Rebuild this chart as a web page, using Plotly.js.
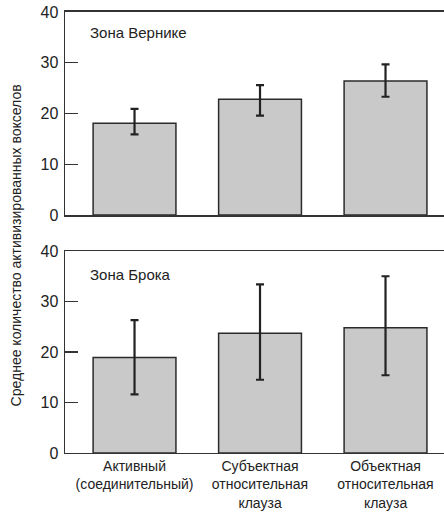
<!DOCTYPE html>
<html>
<head>
<meta charset="utf-8">
<script src="https://cdn.plot.ly/plotly-3.0.1.min.js"></script>
<style>html,body{margin:0;padding:0;background:#fff;}#chart{width:444px;height:515px;}</style>
</head>
<body>
<div id="chart"></div>
<script>
const categories = ["Активный<br>(соединительный)", "Субъектная<br>относительная<br>клауза", "Объектная<br>относительная<br>клауза"];
const wernickeValues = [18.1, 22.8, 26.4];
const wernickePlus = [2.8, 2.8, 3.3];
const wernickeMinus = [2.2, 3.2, 3.1];
const brocaValues = [18.9, 23.7, 24.8];
const brocaPlus = [7.4, 9.7, 10.2];
const brocaMinus = [7.3, 9.2, 9.4];
const panelTitles = ["Зона Вернике", "Зона Брока"];
const yTitle = "Среднее количество активизированных вокселов";
const yTicks = [0, 10, 20, 30, 40];

const FONT = "'Liberation Sans Narrow', 'Arial Narrow', 'Liberation Sans', Arial, sans-serif";
const xIdx = categories.map((c, i) => i);

function barTrace(vals, plus, minus, xa, ya) {
  return {
    type: 'bar', x: xIdx, y: vals, xaxis: xa, yaxis: ya, width: 0.66,
    marker: {color: '#c9c9c9', line: {color: '#2b2b2b', width: 1.5}},
    error_y: {type: 'data', symmetric: false, array: plus, arrayminus: minus,
              color: '#222', thickness: 2.2, width: 4},
    hoverinfo: 'none', showlegend: false
  };
}

const data = [
  barTrace(wernickeValues, wernickePlus, wernickeMinus, 'x', 'y'),
  barTrace(brocaValues, brocaPlus, brocaMinus, 'x2', 'y2')
];

const xCommon = {
  range: [-0.554, 2.466], showline: true, mirror: true, linecolor: '#333', linewidth: 1.5,
  ticks: '', showgrid: false, zeroline: false, fixedrange: true
};
const yCommon = {
  range: [0, 40], tickvals: yTicks, ticks: 'inside', ticklen: 13, tickwidth: 1.5, tickcolor: '#333',
  showline: true, linecolor: '#333', linewidth: 1.5, showgrid: false, zeroline: false,
  tickfont: {family: FONT, size: 16, color: '#222'}, ticklabelstandoff: 2
};

const layout = {
  width: 444, height: 515,
  margin: {l: 65, r: 0, t: 0, b: 0},
  paper_bgcolor: '#fff', plot_bgcolor: '#fff',
  font: {family: FONT, color: '#222'},
  bargap: 0,
  xaxis: Object.assign({}, xCommon, {anchor: 'y', showticklabels: false, tickvals: xIdx}),
  yaxis: Object.assign({}, yCommon, {domain: [0.5825, 0.9767], anchor: 'x'}),
  xaxis2: Object.assign({}, xCommon, {anchor: 'y2', tickvals: xIdx, ticktext: categories,
           tickfont: {family: FONT, size: 14, color: '#222'}}),
  yaxis2: Object.assign({}, yCommon, {domain: [0.1204, 0.5126], anchor: 'x2'}),
  annotations: [
    {text: panelTitles[0], xref: 'x domain', yref: 'y domain', x: 0.061, y: 0.897,
     xanchor: 'left', yanchor: 'middle', showarrow: false, font: {family: FONT, size: 15, color: '#222'}},
    {text: panelTitles[1], xref: 'x2 domain', yref: 'y2 domain', x: 0.061, y: 0.886,
     xanchor: 'left', yanchor: 'middle', showarrow: false, font: {family: FONT, size: 15, color: '#222'}},
    {text: yTitle, xref: 'paper', yref: 'paper', x: -0.13, y: 0.523, xanchor: 'center', yanchor: 'middle',
     textangle: -90, showarrow: false, font: {family: FONT, size: 14, color: '#222'}}
  ]
};

Plotly.newPlot('chart', data, layout, {displayModeBar: false, staticPlot: true});
</script>
</body>
</html>
